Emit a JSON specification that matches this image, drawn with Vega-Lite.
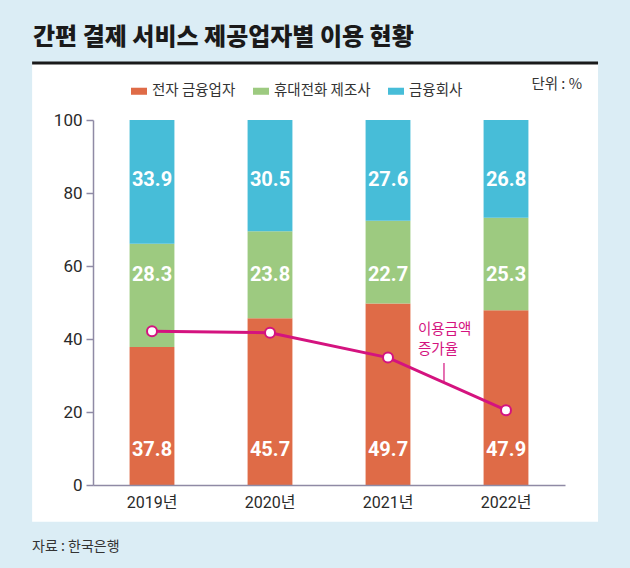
{
  "$schema": "https://vega.github.io/schema/vega-lite/v6.json",
  "autosize": "none",
  "width": 472,
  "height": 365,
  "padding": {"left": 93, "top": 120, "right": 65, "bottom": 83},
  "background": "#dbedf5",
  "config": {
    "view": {"stroke": null},
    "font": "Roboto, Noto Sans CJK KR"
  },
  "title": {
    "text": "간편 결제 서비스 제공업자별 이용 현황",
    "anchor": "start",
    "frame": "group",
    "dx": -60,
    "offset": 12,
    "font": "Noto Sans CJK KR",
    "fontSize": 24,
    "fontWeight": 900,
    "color": "#1a1a1a"
  },
  "datasets": {
    "shares": [
      {"year": "2019년", "type": "전자 금융업자", "value": 37.8},
      {"year": "2019년", "type": "휴대전화 제조사", "value": 28.3},
      {"year": "2019년", "type": "금융회사", "value": 33.9},
      {"year": "2020년", "type": "전자 금융업자", "value": 45.7},
      {"year": "2020년", "type": "휴대전화 제조사", "value": 23.8},
      {"year": "2020년", "type": "금융회사", "value": 30.5},
      {"year": "2021년", "type": "전자 금융업자", "value": 49.7},
      {"year": "2021년", "type": "휴대전화 제조사", "value": 22.7},
      {"year": "2021년", "type": "금융회사", "value": 27.6},
      {"year": "2022년", "type": "전자 금융업자", "value": 47.9},
      {"year": "2022년", "type": "휴대전화 제조사", "value": 25.3},
      {"year": "2022년", "type": "금융회사", "value": 26.8}
    ],
    "growth": [
      {"year": "2019년", "rate": 42.1},
      {"year": "2020년", "rate": 41.7},
      {"year": "2021년", "rate": 34.9},
      {"year": "2022년", "rate": 20.5}
    ]
  },
  "layer": [
    {
      "data": {"values": [{}]},
      "layer": [
        {
          "mark": {"type": "rect", "fill": "#ffffff"},
          "encoding": {
            "x": {"datum": -0.129, "type": "quantitative", "scale": {"domain": [0, 1], "nice": false, "zero": false}, "axis": null},
            "x2": {"datum": 1.07},
            "y": {"datum": 115.4, "type": "quantitative"},
            "y2": {"datum": -10.1}
          }
        },
        {
          "mark": {"type": "rule", "color": "#1a1a1a", "strokeWidth": 3},
          "encoding": {
            "x": {"datum": -0.129, "type": "quantitative"},
            "x2": {"datum": 1.07},
            "y": {"datum": 115.6, "type": "quantitative"}
          }
        },
        {
          "mark": {"type": "text", "text": "단위 : %", "align": "right", "baseline": "middle", "font": "Noto Sans CJK KR", "fontSize": 14.5, "color": "#333333"},
          "encoding": {
            "x": {"datum": 1.036, "type": "quantitative"},
            "y": {"datum": 109.6, "type": "quantitative"}
          }
        },
        {
          "mark": {"type": "text", "text": "자료 : 한국은행", "align": "left", "baseline": "middle", "font": "Noto Sans CJK KR", "fontSize": 14, "color": "#333333"},
          "encoding": {
            "x": {"datum": -0.129, "type": "quantitative"},
            "y": {"datum": -17.0, "type": "quantitative"}
          }
        },
        {
          "mark": {"type": "text", "text": "이용금액\n증가율", "lineBreak": "\n", "lineHeight": 20, "align": "left", "baseline": "middle", "font": "Noto Sans CJK KR", "fontSize": 14.5, "color": "#d4137f"},
          "encoding": {
            "x": {"datum": 0.6886, "type": "quantitative"},
            "y": {"datum": 42.5, "type": "quantitative"}
          }
        },
        {
          "mark": {"type": "rule", "color": "#d4137f", "strokeWidth": 1.2},
          "encoding": {
            "x": {"datum": 0.7436, "type": "quantitative"},
            "y": {"datum": 33.4, "type": "quantitative"},
            "y2": {"datum": 28.2}
          }
        }
      ]
    },
    {
      "data": {"name": "shares"},
      "layer": [
        {
          "transform": [
            {"calculate": "indexof(['전자 금융업자', '휴대전화 제조사', '금융회사'], datum.type)", "as": "k"}
          ],
          "mark": {"type": "bar"},
          "encoding": {
            "x": {
              "field": "year", "type": "nominal",
              "scale": {"paddingInner": 0.62, "paddingOuter": 0.31},
              "axis": {"title": null, "orient": "bottom", "zindex": 1, "labelAngle": 0, "ticks": false, "domainColor": "#8f8aa5", "domainWidth": 1.5, "labelFontSize": 16, "labelColor": "#2a2a2a", "labelPadding": 9}
            },
            "y": {
              "field": "value", "type": "quantitative", "stack": "zero",
              "scale": {"domain": [0, 100], "nice": false},
              "axis": {"title": null, "orient": "left", "zindex": 1, "values": [0, 20, 40, 60, 80, 100], "grid": false, "domainColor": "#8f8aa5", "domainWidth": 1.5, "tickColor": "#8f8aa5", "tickWidth": 1.5, "tickSize": 7, "labelFontSize": 17, "labelColor": "#2a2a2a", "labelPadding": 4}
            },
            "color": {
              "field": "type", "type": "nominal",
              "scale": {"domain": ["전자 금융업자", "휴대전화 제조사", "금융회사"], "range": ["#df6b47", "#9dca80", "#47bdd8"]},
              "legend": {"orient": "none", "legendX": 38, "legendY": -37, "direction": "horizontal", "title": null, "symbolType": "M-1,-0.44H1V0.44H-1Z", "symbolSize": 256, "symbolStrokeWidth": 0, "labelFont": "Noto Sans CJK KR", "labelFontSize": 14.5, "labelColor": "#333333", "labelOffset": 5, "columnPadding": 17}
            },
            "order": {"field": "k", "type": "quantitative", "sort": "ascending"}
          }
        },
        {
          "transform": [{"filter": "datum.type === '전자 금융업자'"}],
          "mark": {"type": "text", "color": "#ffffff", "fontWeight": "bold", "fontSize": 20, "baseline": "middle"},
          "encoding": {
            "x": {"field": "year", "type": "nominal"},
            "y": {"datum": 9.6, "type": "quantitative"},
            "text": {"field": "value", "type": "quantitative", "format": ".1f"}
          }
        },
        {
          "transform": [{"filter": "datum.type === '휴대전화 제조사'"}],
          "mark": {"type": "text", "color": "#ffffff", "fontWeight": "bold", "fontSize": 20, "baseline": "middle"},
          "encoding": {
            "x": {"field": "year", "type": "nominal"},
            "y": {"datum": 57.5, "type": "quantitative"},
            "text": {"field": "value", "type": "quantitative", "format": ".1f"}
          }
        },
        {
          "transform": [{"filter": "datum.type === '금융회사'"}],
          "mark": {"type": "text", "color": "#ffffff", "fontWeight": "bold", "fontSize": 20, "baseline": "middle"},
          "encoding": {
            "x": {"field": "year", "type": "nominal"},
            "y": {"datum": 83.6, "type": "quantitative"},
            "text": {"field": "value", "type": "quantitative", "format": ".1f"}
          }
        },
        {
          "data": {"name": "growth"},
          "mark": {"type": "line", "color": "#d4137f", "strokeWidth": 3},
          "encoding": {
            "x": {"field": "year", "type": "nominal"},
            "y": {"field": "rate", "type": "quantitative"}
          }
        },
        {
          "data": {"name": "growth"},
          "mark": {"type": "point", "filled": true, "fill": "#ffffff", "stroke": "#d4137f", "strokeWidth": 2, "size": 100, "opacity": 1},
          "encoding": {
            "x": {"field": "year", "type": "nominal"},
            "y": {"field": "rate", "type": "quantitative"}
          }
        }
      ]
    }
  ],
  "resolve": {"scale": {"x": "independent"}}
}
